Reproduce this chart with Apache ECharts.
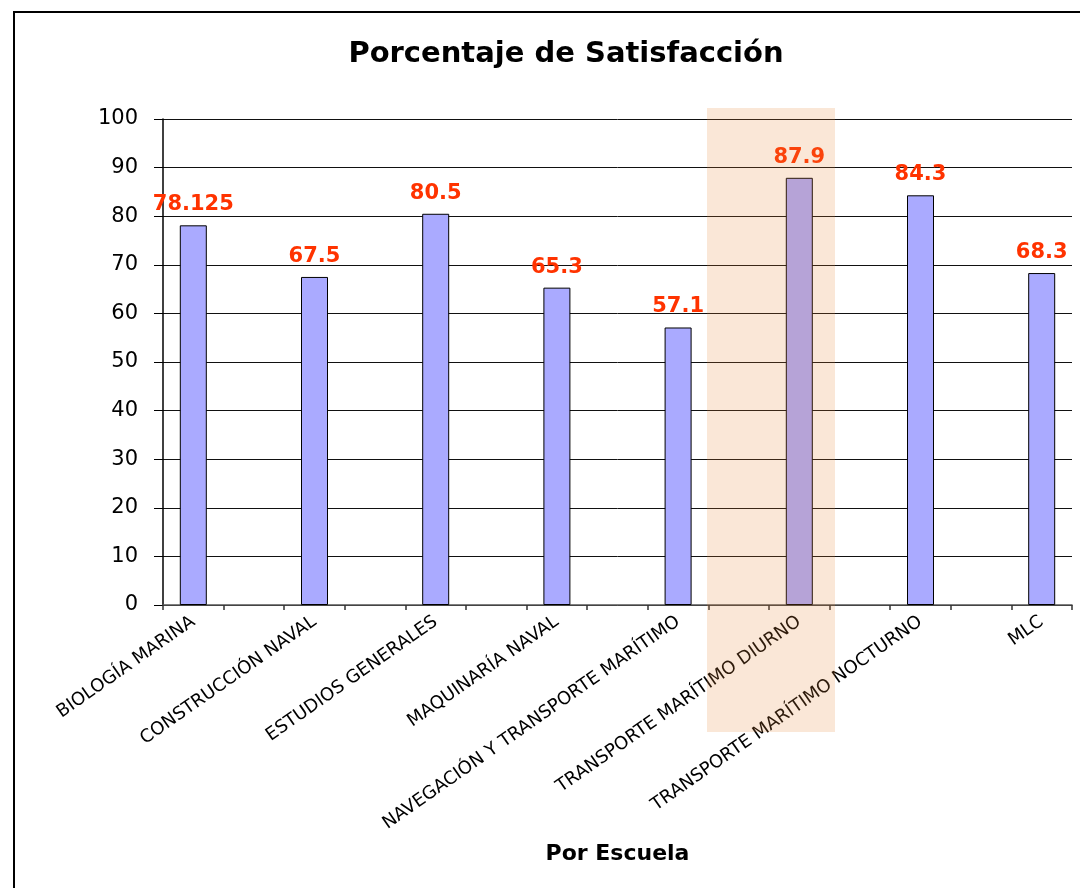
<!DOCTYPE html>
<html>
<head>
<meta charset="utf-8">
<script src="https://cdn.jsdelivr.net/npm/echarts@6/dist/echarts.min.js"></script>
<style>
html,body{margin:0;padding:0;background:#fff;}
#c{width:1080px;height:888px;}
</style>
</head>
<body>
<div id="c"></div>
<script>
// ---- data ----
const chartTitle = 'Porcentaje de Satisfacción';
const axisTitle = 'Por Escuela';
const schools = [
  'BIOLOGÍA MARINA',
  'CONSTRUCCIÓN NAVAL',
  'ESTUDIOS GENERALES',
  'MAQUINARÍA NAVAL',
  'NAVEGACIÓN Y TRANSPORTE MARÍTIMO',
  'TRANSPORTE MARÍTIMO DIURNO',
  'TRANSPORTE MARÍTIMO NOCTURNO',
  'MLC'
];
const satisfaction = [78.125, 67.5, 80.5, 65.3, 57.1, 87.9, 84.3, 68.3];
const yTicks = [0, 10, 20, 30, 40, 50, 60, 70, 80, 90, 100];

// build category slots: each school followed by an empty slot (as in the original sheet)
const slots = [];
const slotValues = [];
schools.forEach((s, i) => {
  slots.push(s);
  slotValues.push(satisfaction[i]);
  if (i < schools.length - 1) {
    slots.push('\u200b'.repeat(i + 1));
    slotValues.push('-');
  }
});

const FONT = 'DejaVu Sans';
const chart = echarts.init(document.getElementById('c'), null, {renderer: 'canvas'});
chart.setOption({
  backgroundColor: '#ffffff',
  animation: false,
  title: {
    text: chartTitle,
    left: 561,
    top: 35,
    textAlign: 'center',
    textStyle: {fontFamily: FONT, fontWeight: 'bold', fontSize: 29, color: '#000'}
  },
  grid: {left: 163, right: 8, top: 119, bottom: 283, containLabel: false, outerBoundsMode: 'none'},
  xAxis: {
    type: 'category',
    data: slots,
    boundaryGap: true,
    name: axisTitle,
    nameLocation: 'middle',
    nameGap: 238,
    nameTextStyle: {fontFamily: FONT, fontWeight: 'bold', fontSize: 22, color: '#000'},
    axisLine: {show: true, lineStyle: {color: '#555', width: 1.5}},
    axisTick: {show: true, interval: 0, alignWithLabel: false, length: 5, lineStyle: {color: '#333', width: 1.5}},
    axisLabel: {
      interval: 1, rotate: 35, margin: 15, hideOverlap: false,
      fontFamily: FONT, fontSize: 18, color: '#000'
    },
    splitLine: {show: false}
  },
  yAxis: {
    type: 'value',
    min: yTicks[0],
    max: yTicks[yTicks.length - 1],
    interval: yTicks[1] - yTicks[0],
    axisLine: {show: true, lineStyle: {color: '#000', width: 1.5}},
    axisTick: {show: true, length: 9, lineStyle: {color: '#000', width: 1}},
    axisLabel: {margin: 25, fontFamily: FONT, fontSize: 21, color: '#000'},
    splitLine: {show: true, lineStyle: {color: '#111', width: 1}}
  },
  series: [{
    type: 'bar',
    data: slotValues,
    barWidth: 27,
    itemStyle: {color: '#aaaaff', borderColor: '#000', borderWidth: 1},
    label: {
      show: true, position: 'top', distance: 10,
      fontFamily: FONT, fontWeight: 'bold', fontSize: 21, color: '#ff3300',
      formatter: p => String(p.value)
    }
  }],
  graphic: [
    {type: 'rect', left: 13, top: 11, z: 100, silent: true,
     shape: {width: 1200, height: 1000}, style: {fill: 'transparent', stroke: '#000', lineWidth: 2}},
    {type: 'rect', left: 707, top: 108, z: 100, silent: true,
     shape: {width: 128, height: 624}, style: {fill: 'rgba(230,135,55,0.2)'}}
  ]
});
</script>
</body>
</html>
